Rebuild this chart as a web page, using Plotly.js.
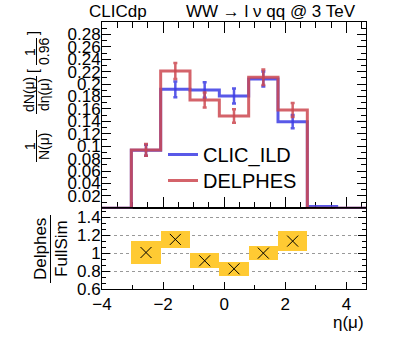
<!DOCTYPE html>
<html>
<head>
<meta charset="utf-8">
<script src="https://cdn.plot.ly/plotly-3.0.1.min.js"></script>
<style>html,body{margin:0;padding:0;background:#fff;}#chart{width:407px;height:348px;}</style>
</head>
<body>
<div id="chart"></div>
<script>
// ---- data ----
const binEdges = [-4, -3.04, -2.08, -1.12, -0.16, 0.80, 1.76, 2.72, 3.68, 4.64];
const clicILD    = [0, 0.0935, 0.1916, 0.1905, 0.1808, 0.2082, 0.1395, 0.003, 0];
const clicILDErr = [0, 0.009, 0.0126, 0.0124, 0.012, 0.012, 0.0107, 0, 0];
const delphes    = [0, 0.094, 0.221, 0.1744, 0.1486, 0.211, 0.1583, 0, 0];
const delphesErr = [0, 0.0094, 0.0129, 0.012, 0.0107, 0.0126, 0.0113, 0, 0];
const ratioBins  = [1, 2, 3, 4, 5, 6];            // indices into binEdges bins
const ratio      = [1.007, 1.153, 0.915, 0.825, 1.0, 1.134];
const ratioErr   = [0.124, 0.096, 0.082, 0.077, 0.082, 0.109];
const yTicksTop   = [0.02,0.04,0.06,0.08,0.1,0.12,0.14,0.16,0.18,0.2,0.22,0.24,0.26,0.28];
const yTicksRatio = [0.6, 0.8, 1, 1.2, 1.4];
const xTicks      = [-4, -2, 0, 2, 4];

// ---- derived ----
const centers = binEdges.slice(0, -1).map((e, i) => (e + binEdges[i + 1]) / 2);
const stepY = v => v.concat([v[v.length - 1]]);
const nz = (vals, errs) => vals.map((v, i) => v > 0 && errs[i] > 0 ? i : -1).filter(i => i >= 0);

const FONT = "Liberation Sans, Arial, sans-serif";
const BLUE = "rgba(60,60,228,0.85)";
const RED  = "rgba(205,72,80,0.85)";

const iB = nz(clicILD, clicILDErr), iR = nz(delphes, delphesErr);
const traces = [
  {x: binEdges, y: stepY(clicILD), mode: "lines", line: {shape: "hv", color: BLUE, width: 3}, name: "CLIC_ILD", legend: "legend", xaxis: "x", yaxis: "y"},
  {x: iB.map(i => centers[i]), y: iB.map(i => clicILD[i]), mode: "markers", marker: {size: 1, color: "rgba(0,0,0,0)"},
   error_y: {type: "data", array: iB.map(i => clicILDErr[i]), color: BLUE, thickness: 2.5, width: 2}, showlegend: false, xaxis: "x", yaxis: "y"},
  {x: binEdges, y: stepY(delphes), mode: "lines", line: {shape: "hv", color: RED, width: 3}, name: "DELPHES", legend: "legend2", xaxis: "x", yaxis: "y"},
  {x: iR.map(i => centers[i]), y: iR.map(i => delphes[i]), mode: "markers", marker: {size: 1, color: "rgba(0,0,0,0)"},
   error_y: {type: "data", array: iR.map(i => delphesErr[i]), color: RED, thickness: 2.5, width: 2}, showlegend: false, xaxis: "x", yaxis: "y"},
  {type: "bar", x: ratioBins.map(i => centers[i]), base: ratio.map((r, k) => r - ratioErr[k]), y: ratioErr.map(e => 2 * e),
   width: ratioBins.map(i => binEdges[i + 1] - binEdges[i]), marker: {color: "#ffca33", line: {width: 0}}, showlegend: false, xaxis: "x2", yaxis: "y2", hoverinfo: "skip"},
  {x: ratioBins.map(i => centers[i]), y: ratio, mode: "markers", marker: {symbol: "x-thin-open", size: 11, color: "#000", line: {width: 1, color: "#000"}},
   showlegend: false, xaxis: "x2", yaxis: "y2"}
];

// pixel -> paper helpers (layout margins below)
const L = 102, R = 41, T = 22, B = 59, W = 407, H = 348;
const PW = W - L - R, PH = H - T - B;
const px = v => (v - L) / PW;
const py = v => (H - B - v) / PH;
const splitPy = 208.3;
const split = py(splitPy);

function ann(text, x, y, size, opts) {
  return Object.assign({text: text, x: px(x), y: py(y), xref: "paper", yref: "paper", showarrow: false,
    font: {family: FONT, size: size, color: "#000"}, xanchor: "center", yanchor: "middle"}, opts || {});
}
const rot = {textangle: -90};
const annotations = [
  ann("CLICdp", 87, 12, 17, {xanchor: "left"}),
  ann("WW \u2192 l \u03bd qq @ 3 TeV", 358, 12, 17, {xanchor: "right"}),
  ann("\u03b7(\u03bc)", 366, 322, 17, {xanchor: "right"}),
  // y title top panel
  ann("1", 30, 146, 14, rot),
  ann("N(\u03bc)", 44, 146, 14, rot),
  ann("dN(\u03bc)", 29, 95, 14, rot),
  ann("d\u03b7(\u03bc)", 44, 95, 14, rot),
  ann("[", 33, 71, 14, rot),
  ann("1", 30, 52, 14, rot),
  ann("0.96", 44, 52, 14, rot),
  ann("]", 33, 33, 14, rot)
  ,
  // y title ratio
  ann("Delphes", 40, 249, 17, rot),
  ann("FullSim", 61, 249, 17, rot)
];
const vline = (x, y0, y1) => ({type: "line", xref: "paper", yref: "paper", x0: px(x), x1: px(x), y0: py(y0), y1: py(y1), line: {color: "#000", width: 1}});
const shapes = [vline(36.5, 130, 162), vline(36.5, 76, 114), vline(36.5, 38, 65), vline(50.5, 215, 283)];

const axBase = {showline: true, linecolor: "#000", linewidth: 1, zeroline: false, showgrid: false, ticks: "inside", tickcolor: "#000",
  tickfont: {family: FONT, size: 17, color: "#000"}, layer: "below traces"};
const legBase = {xanchor: "left", yanchor: "top", font: {family: FONT, size: 20, color: "#000"}, bgcolor: "rgba(0,0,0,0)", itemwidth: 30};

const layout = {
  width: W, height: H, margin: {l: L, r: R, t: T, b: B, pad: 0},
  paper_bgcolor: "#fff", plot_bgcolor: "#fff", bargap: 0,
  font: {family: FONT, color: "#000"},
  showlegend: true,
  legend: Object.assign({}, legBase, {x: px(163), y: py(135)}),
  legend2: Object.assign({}, legBase, {x: px(163), y: py(161)}),
  xaxis: Object.assign({}, axBase, {domain: [0, 1], anchor: "y", range: [binEdges[0], binEdges[binEdges.length - 1]], showticklabels: false,
    tickvals: xTicks, ticklen: 11, mirror: "ticks", minor: {ticks: "inside", ticklen: 6, dtick: 0.5, tick0: 0, tickcolor: "#000"}}),
  yaxis: Object.assign({}, axBase, {domain: [split, 1], anchor: "x", range: [0, 0.3], tickvals: yTicksTop, ticklen: 9, mirror: "ticks",
    ticklabelstandoff: -3,
    minor: {ticks: "inside", ticklen: 5, dtick: 0.01, tick0: 0, tickcolor: "#000"}}),
  xaxis2: Object.assign({}, axBase, {domain: [0, 1], anchor: "y2", range: [binEdges[0], binEdges[binEdges.length - 1]], tickvals: xTicks,
    ticklen: 7, mirror: true, minor: {ticks: "inside", ticklen: 4, dtick: 1, tick0: 0, tickcolor: "#000"}}),
  yaxis2: Object.assign({}, axBase, {domain: [0, split], anchor: "x2", range: [0.6, 1.5], tickvals: yTicksRatio, ticklen: 8, mirror: "ticks",
    ticklabelstandoff: -3,
    showgrid: true, gridcolor: "#999", griddash: "dot", gridwidth: 1,
    minor: {ticks: "inside", ticklen: 4, dtick: 0.2 / 3, tick0: 0.6, tickcolor: "#000"}}),
  annotations: annotations,
  shapes: shapes
};

Plotly.newPlot("chart", traces, layout, {staticPlot: true, displayModeBar: false});
</script>
</body>
</html>
